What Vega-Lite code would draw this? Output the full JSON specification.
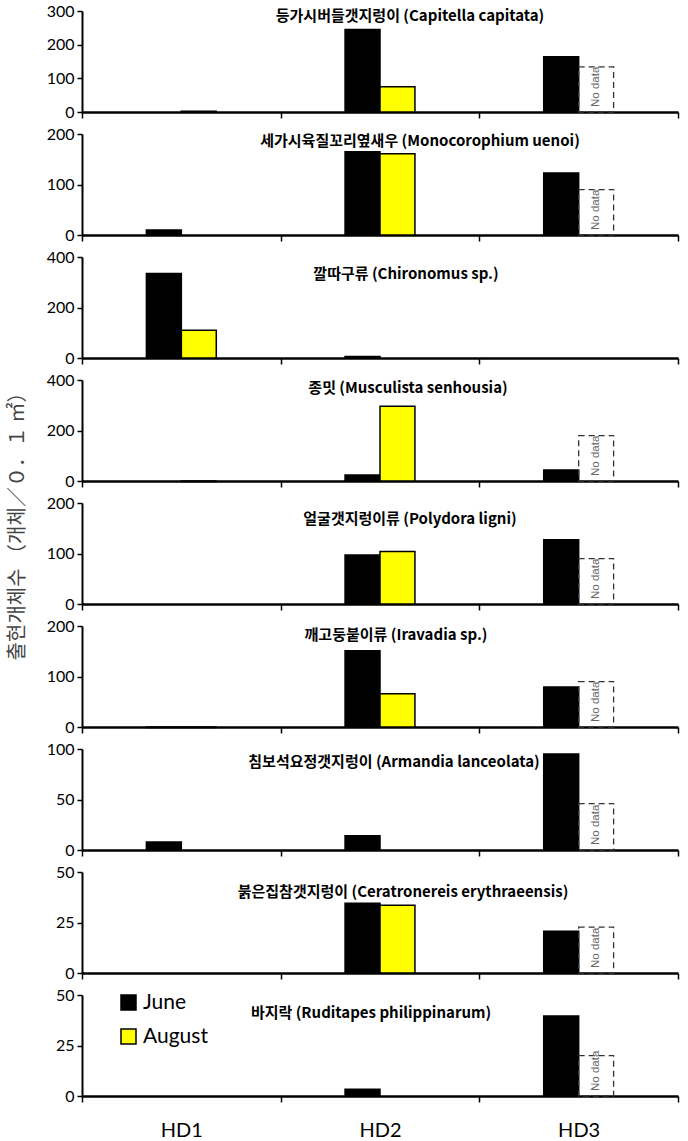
{
  "$schema": "https://vega.github.io/schema/vega-lite/v6.json",
  "padding": {"left": 8, "top": 3, "right": 4, "bottom": 5},
  "datasets": {
    "bars": [
      {"p": 1, "site": "HD1", "month": "August", "v": 2},
      {"p": 1, "site": "HD2", "month": "June", "v": 245},
      {"p": 1, "site": "HD2", "month": "August", "v": 75},
      {"p": 1, "site": "HD3", "month": "June", "v": 164},
      {"p": 2, "site": "HD1", "month": "June", "v": 10},
      {"p": 2, "site": "HD2", "month": "June", "v": 165},
      {"p": 2, "site": "HD2", "month": "August", "v": 161},
      {"p": 2, "site": "HD3", "month": "June", "v": 123},
      {"p": 3, "site": "HD1", "month": "June", "v": 335},
      {"p": 3, "site": "HD1", "month": "August", "v": 110},
      {"p": 3, "site": "HD2", "month": "June", "v": 6},
      {"p": 4, "site": "HD1", "month": "August", "v": -2},
      {"p": 4, "site": "HD2", "month": "June", "v": 24},
      {"p": 4, "site": "HD2", "month": "August", "v": 296},
      {"p": 4, "site": "HD3", "month": "June", "v": 44},
      {"p": 5, "site": "HD2", "month": "June", "v": 97},
      {"p": 5, "site": "HD2", "month": "August", "v": 104},
      {"p": 5, "site": "HD3", "month": "June", "v": 127},
      {"p": 6, "site": "HD1", "month": "June", "v": -1},
      {"p": 6, "site": "HD1", "month": "August", "v": -1},
      {"p": 6, "site": "HD2", "month": "June", "v": 151},
      {"p": 6, "site": "HD2", "month": "August", "v": 66},
      {"p": 6, "site": "HD3", "month": "June", "v": 79},
      {"p": 7, "site": "HD1", "month": "June", "v": 8},
      {"p": 7, "site": "HD2", "month": "June", "v": 14},
      {"p": 7, "site": "HD3", "month": "June", "v": 95},
      {"p": 8, "site": "HD2", "month": "June", "v": 34.5},
      {"p": 8, "site": "HD2", "month": "August", "v": 33.5},
      {"p": 8, "site": "HD3", "month": "June", "v": 20.7},
      {"p": 9, "site": "HD2", "month": "June", "v": 3.3},
      {"p": 9, "site": "HD3", "month": "June", "v": 39.6}
    ],
    "nodata": [
      {"p": 1, "site": "HD3", "month": "August", "v": 134},
      {"p": 2, "site": "HD3", "month": "August", "v": 90},
      {"p": 4, "site": "HD3", "month": "August", "v": 180},
      {"p": 5, "site": "HD3", "month": "August", "v": 90},
      {"p": 6, "site": "HD3", "month": "August", "v": 90},
      {"p": 7, "site": "HD3", "month": "August", "v": 46},
      {"p": 8, "site": "HD3", "month": "August", "v": 22.7},
      {"p": 9, "site": "HD3", "month": "August", "v": 20}
    ]
  },
  "title": {"text": "출현개체수 （개체／０．１ ㎡）", "orient": "left", "anchor": "middle", "fontSize": 20, "fontWeight": "normal", "font": "Noto Sans CJK KR", "color": "#444", "offset": 18, "dx": 50},
  "spacing": 22,
  "bounds": "flush",
  "resolve": {"scale": {"y": "independent", "x": "independent"}, "legend": {"color": "independent"}},
  "vconcat": [
    {
      "width": 596, "height": 101,
      "title": {"text": "등가시버들갯지렁이 (Capitella capitata)", "dx": 30, "offset": -21},
      "layer": [
        {"data": {"name": "bars"}, "transform": [{"filter": "datum.p == 1"}],
         "mark": {"type": "bar", "stroke": "black", "strokeWidth": 1.5},
         "encoding": {
           "x": {"field": "site", "type": "nominal", "scale": {"domain": ["HD1", "HD2", "HD3"], "paddingInner": 0, "paddingOuter": 0}, "axis": {"labels": false, "tickBand": "extent", "tickSize": 6, "title": null, "domainWidth": 2.5}},
           "xOffset": {"field": "month", "scale": {"domain": ["p1", "June", "August", "p2"], "paddingInner": 0, "paddingOuter": 0.843}},
           "y": {"field": "v", "type": "quantitative", "scale": {"domain": [0, 300], "nice": false}, "axis": {"values": [0, 100, 200, 300], "tickCount": 4, "title": null}},
           "color": {"field": "month", "scale": {"domain": ["June", "August"], "range": ["black", "#FFFF00"]}, "legend": null}
         }},
        {"data": {"name": "nodata"}, "transform": [{"filter": "datum.p == 1"}],
         "mark": {"type": "bar", "filled": false, "stroke": "#333", "strokeDash": [6, 4], "strokeWidth": 1.3},
         "encoding": {"x": {"field": "site", "type": "nominal", "axis": {"labels": false, "tickBand": "extent", "tickSize": 6, "title": null, "domainWidth": 2.5}}, "xOffset": {"field": "month"}, "y": {"field": "v", "type": "quantitative", "axis": {"values": [0, 100, 200, 300], "tickCount": 4, "title": null}}}},
        {"data": {"name": "nodata"}, "transform": [{"filter": "datum.p == 1"}],
         "mark": {"type": "text", "text": "No data", "angle": 270, "align": "left", "baseline": "middle", "dx": 5, "font": "Liberation Sans", "fontSize": 11.5, "color": "#666"},
         "encoding": {"x": {"field": "site", "type": "nominal", "axis": {"labels": false, "tickBand": "extent", "tickSize": 6, "title": null, "domainWidth": 2.5}}, "xOffset": {"field": "month"}, "y": {"datum": 0, "type": "quantitative", "axis": {"values": [0, 100, 200, 300], "tickCount": 4, "title": null}}}}
      ]
    },
    {
      "width": 596, "height": 101,
      "title": {"text": "세가시육질꼬리옆새우 (Monocorophium uenoi)", "dx": 40, "offset": -23},
      "layer": [
        {"data": {"name": "bars"}, "transform": [{"filter": "datum.p == 2"}],
         "mark": {"type": "bar", "stroke": "black", "strokeWidth": 1.5},
         "encoding": {
           "x": {"field": "site", "type": "nominal", "scale": {"domain": ["HD1", "HD2", "HD3"], "paddingInner": 0, "paddingOuter": 0}, "axis": {"labels": false, "tickBand": "extent", "tickSize": 6, "title": null, "domainWidth": 2.5}},
           "xOffset": {"field": "month", "scale": {"domain": ["p1", "June", "August", "p2"], "paddingInner": 0, "paddingOuter": 0.843}},
           "y": {"field": "v", "type": "quantitative", "scale": {"domain": [0, 200], "nice": false}, "axis": {"values": [0, 100, 200], "title": null}},
           "color": {"field": "month", "scale": {"domain": ["June", "August"], "range": ["black", "#FFFF00"]}, "legend": null}
         }},
        {"data": {"name": "nodata"}, "transform": [{"filter": "datum.p == 2"}],
         "mark": {"type": "bar", "filled": false, "stroke": "#333", "strokeDash": [6, 4], "strokeWidth": 1.3},
         "encoding": {"x": {"field": "site", "type": "nominal"}, "xOffset": {"field": "month"}, "y": {"field": "v", "type": "quantitative"}}},
        {"data": {"name": "nodata"}, "transform": [{"filter": "datum.p == 2"}],
         "mark": {"type": "text", "text": "No data", "angle": 270, "align": "left", "baseline": "middle", "dx": 5, "font": "Liberation Sans", "fontSize": 11.5, "color": "#666"},
         "encoding": {"x": {"field": "site", "type": "nominal"}, "xOffset": {"field": "month"}, "y": {"datum": 0, "type": "quantitative"}}}
      ]
    },
    {
      "width": 596, "height": 101,
      "title": {"text": "깔따구류 (Chironomus sp.)", "dx": 26, "offset": -33},
      "layer": [
        {"data": {"name": "bars"}, "transform": [{"filter": "datum.p == 3"}],
         "mark": {"type": "bar", "stroke": "black", "strokeWidth": 1.5},
         "encoding": {
           "x": {"field": "site", "type": "nominal", "scale": {"domain": ["HD1", "HD2", "HD3"], "paddingInner": 0, "paddingOuter": 0}, "axis": {"labels": false, "tickBand": "extent", "tickSize": 6, "title": null, "domainWidth": 2.5}},
           "xOffset": {"field": "month", "scale": {"domain": ["p1", "June", "August", "p2"], "paddingInner": 0, "paddingOuter": 0.843}},
           "y": {"field": "v", "type": "quantitative", "scale": {"domain": [0, 400], "nice": false}, "axis": {"values": [0, 200, 400], "title": null}},
           "color": {"field": "month", "scale": {"domain": ["June", "August"], "range": ["black", "#FFFF00"]}, "legend": null}
         }}
      ]
    },
    {
      "width": 596, "height": 101,
      "title": {"text": "종밋 (Musculista senhousia)", "dx": 28, "offset": -24},
      "layer": [
        {"data": {"name": "bars"}, "transform": [{"filter": "datum.p == 4"}],
         "mark": {"type": "bar", "stroke": "black", "strokeWidth": 1.5},
         "encoding": {
           "x": {"field": "site", "type": "nominal", "scale": {"domain": ["HD1", "HD2", "HD3"], "paddingInner": 0, "paddingOuter": 0}, "axis": {"labels": false, "tickBand": "extent", "tickSize": 6, "title": null, "domainWidth": 2.5}},
           "xOffset": {"field": "month", "scale": {"domain": ["p1", "June", "August", "p2"], "paddingInner": 0, "paddingOuter": 0.843}},
           "y": {"field": "v", "type": "quantitative", "scale": {"domain": [0, 400], "nice": false}, "axis": {"values": [0, 200, 400], "title": null}},
           "color": {"field": "month", "scale": {"domain": ["June", "August"], "range": ["black", "#FFFF00"]}, "legend": null}
         }},
        {"data": {"name": "nodata"}, "transform": [{"filter": "datum.p == 4"}],
         "mark": {"type": "bar", "filled": false, "stroke": "#333", "strokeDash": [6, 4], "strokeWidth": 1.3},
         "encoding": {"x": {"field": "site", "type": "nominal"}, "xOffset": {"field": "month"}, "y": {"field": "v", "type": "quantitative"}}},
        {"data": {"name": "nodata"}, "transform": [{"filter": "datum.p == 4"}],
         "mark": {"type": "text", "text": "No data", "angle": 270, "align": "left", "baseline": "middle", "dx": 5, "font": "Liberation Sans", "fontSize": 11.5, "color": "#666"},
         "encoding": {"x": {"field": "site", "type": "nominal"}, "xOffset": {"field": "month"}, "y": {"datum": 0, "type": "quantitative"}}}
      ]
    },
    {
      "width": 596, "height": 101,
      "title": {"text": "얼굴갯지렁이류 (Polydora ligni)", "dx": 30, "offset": -32},
      "layer": [
        {"data": {"name": "bars"}, "transform": [{"filter": "datum.p == 5"}],
         "mark": {"type": "bar", "stroke": "black", "strokeWidth": 1.5},
         "encoding": {
           "x": {"field": "site", "type": "nominal", "scale": {"domain": ["HD1", "HD2", "HD3"], "paddingInner": 0, "paddingOuter": 0}, "axis": {"labels": false, "tickBand": "extent", "tickSize": 6, "title": null, "domainWidth": 2.5}},
           "xOffset": {"field": "month", "scale": {"domain": ["p1", "June", "August", "p2"], "paddingInner": 0, "paddingOuter": 0.843}},
           "y": {"field": "v", "type": "quantitative", "scale": {"domain": [0, 200], "nice": false}, "axis": {"values": [0, 100, 200], "title": null}},
           "color": {"field": "month", "scale": {"domain": ["June", "August"], "range": ["black", "#FFFF00"]}, "legend": null}
         }},
        {"data": {"name": "nodata"}, "transform": [{"filter": "datum.p == 5"}],
         "mark": {"type": "bar", "filled": false, "stroke": "#333", "strokeDash": [6, 4], "strokeWidth": 1.3},
         "encoding": {"x": {"field": "site", "type": "nominal"}, "xOffset": {"field": "month"}, "y": {"field": "v", "type": "quantitative"}}},
        {"data": {"name": "nodata"}, "transform": [{"filter": "datum.p == 5"}],
         "mark": {"type": "text", "text": "No data", "angle": 270, "align": "left", "baseline": "middle", "dx": 5, "font": "Liberation Sans", "fontSize": 11.5, "color": "#666"},
         "encoding": {"x": {"field": "site", "type": "nominal"}, "xOffset": {"field": "month"}, "y": {"datum": 0, "type": "quantitative"}}}
      ]
    },
    {
      "width": 596, "height": 101,
      "title": {"text": "깨고둥붙이류 (Iravadia sp.)", "dx": 16, "offset": -25},
      "layer": [
        {"data": {"name": "bars"}, "transform": [{"filter": "datum.p == 6"}],
         "mark": {"type": "bar", "stroke": "black", "strokeWidth": 1.5},
         "encoding": {
           "x": {"field": "site", "type": "nominal", "scale": {"domain": ["HD1", "HD2", "HD3"], "paddingInner": 0, "paddingOuter": 0}, "axis": {"labels": false, "tickBand": "extent", "tickSize": 6, "title": null, "domainWidth": 2.5}},
           "xOffset": {"field": "month", "scale": {"domain": ["p1", "June", "August", "p2"], "paddingInner": 0, "paddingOuter": 0.843}},
           "y": {"field": "v", "type": "quantitative", "scale": {"domain": [0, 200], "nice": false}, "axis": {"values": [0, 100, 200], "title": null}},
           "color": {"field": "month", "scale": {"domain": ["June", "August"], "range": ["black", "#FFFF00"]}, "legend": null}
         }},
        {"data": {"name": "nodata"}, "transform": [{"filter": "datum.p == 6"}],
         "mark": {"type": "bar", "filled": false, "stroke": "#333", "strokeDash": [6, 4], "strokeWidth": 1.3},
         "encoding": {"x": {"field": "site", "type": "nominal"}, "xOffset": {"field": "month"}, "y": {"field": "v", "type": "quantitative"}}},
        {"data": {"name": "nodata"}, "transform": [{"filter": "datum.p == 6"}],
         "mark": {"type": "text", "text": "No data", "angle": 270, "align": "left", "baseline": "middle", "dx": 5, "font": "Liberation Sans", "fontSize": 11.5, "color": "#666"},
         "encoding": {"x": {"field": "site", "type": "nominal"}, "xOffset": {"field": "month"}, "y": {"datum": 0, "type": "quantitative"}}}
      ]
    },
    {
      "width": 596, "height": 101,
      "title": {"text": "침보석요정갯지렁이 (Armandia lanceolata)", "dx": 14, "offset": -29},
      "layer": [
        {"data": {"name": "bars"}, "transform": [{"filter": "datum.p == 7"}],
         "mark": {"type": "bar", "stroke": "black", "strokeWidth": 1.5},
         "encoding": {
           "x": {"field": "site", "type": "nominal", "scale": {"domain": ["HD1", "HD2", "HD3"], "paddingInner": 0, "paddingOuter": 0}, "axis": {"labels": false, "tickBand": "extent", "tickSize": 6, "title": null, "domainWidth": 2.5}},
           "xOffset": {"field": "month", "scale": {"domain": ["p1", "June", "August", "p2"], "paddingInner": 0, "paddingOuter": 0.843}},
           "y": {"field": "v", "type": "quantitative", "scale": {"domain": [0, 100], "nice": false}, "axis": {"values": [0, 50, 100], "title": null}},
           "color": {"field": "month", "scale": {"domain": ["June", "August"], "range": ["black", "#FFFF00"]}, "legend": null}
         }},
        {"data": {"name": "nodata"}, "transform": [{"filter": "datum.p == 7"}],
         "mark": {"type": "bar", "filled": false, "stroke": "#333", "strokeDash": [6, 4], "strokeWidth": 1.3},
         "encoding": {"x": {"field": "site", "type": "nominal"}, "xOffset": {"field": "month"}, "y": {"field": "v", "type": "quantitative"}}},
        {"data": {"name": "nodata"}, "transform": [{"filter": "datum.p == 7"}],
         "mark": {"type": "text", "text": "No data", "angle": 270, "align": "left", "baseline": "middle", "dx": 5, "font": "Liberation Sans", "fontSize": 11.5, "color": "#666"},
         "encoding": {"x": {"field": "site", "type": "nominal"}, "xOffset": {"field": "month"}, "y": {"datum": 0, "type": "quantitative"}}}
      ]
    },
    {
      "width": 596, "height": 101,
      "title": {"text": "붉은집참갯지렁이 (Ceratronereis erythraeensis)", "dx": 23, "offset": -36},
      "layer": [
        {"data": {"name": "bars"}, "transform": [{"filter": "datum.p == 8"}],
         "mark": {"type": "bar", "stroke": "black", "strokeWidth": 1.5},
         "encoding": {
           "x": {"field": "site", "type": "nominal", "scale": {"domain": ["HD1", "HD2", "HD3"], "paddingInner": 0, "paddingOuter": 0}, "axis": {"labels": false, "tickBand": "extent", "tickSize": 6, "title": null, "domainWidth": 2.5}},
           "xOffset": {"field": "month", "scale": {"domain": ["p1", "June", "August", "p2"], "paddingInner": 0, "paddingOuter": 0.843}},
           "y": {"field": "v", "type": "quantitative", "scale": {"domain": [0, 50], "nice": false}, "axis": {"values": [0, 25, 50], "title": null}},
           "color": {"field": "month", "scale": {"domain": ["June", "August"], "range": ["black", "#FFFF00"]}, "legend": null}
         }},
        {"data": {"name": "nodata"}, "transform": [{"filter": "datum.p == 8"}],
         "mark": {"type": "bar", "filled": false, "stroke": "#333", "strokeDash": [6, 4], "strokeWidth": 1.3},
         "encoding": {"x": {"field": "site", "type": "nominal"}, "xOffset": {"field": "month"}, "y": {"field": "v", "type": "quantitative"}}},
        {"data": {"name": "nodata"}, "transform": [{"filter": "datum.p == 8"}],
         "mark": {"type": "text", "text": "No data", "angle": 270, "align": "left", "baseline": "middle", "dx": 5, "font": "Liberation Sans", "fontSize": 11.5, "color": "#666"},
         "encoding": {"x": {"field": "site", "type": "nominal"}, "xOffset": {"field": "month"}, "y": {"datum": 0, "type": "quantitative"}}}
      ]
    },
    {
      "width": 596, "height": 101,
      "title": {"text": "바지락 (Ruditapes philippinarum)", "dx": -9, "offset": -34},
      "layer": [
        {"data": {"name": "bars"}, "transform": [{"filter": "datum.p == 9"}],
         "mark": {"type": "bar", "stroke": "black", "strokeWidth": 1.5},
         "encoding": {
           "x": {"field": "site", "type": "nominal", "scale": {"domain": ["HD1", "HD2", "HD3"], "paddingInner": 0, "paddingOuter": 0}, "axis": {"labels": true, "tickBand": "extent", "tickSize": 6, "title": null, "domainWidth": 2.5, "labelFontSize": 20, "labelPadding": 18, "labelAngle": 0}},
           "xOffset": {"field": "month", "scale": {"domain": ["p1", "June", "August", "p2"], "paddingInner": 0, "paddingOuter": 0.843}},
           "y": {"field": "v", "type": "quantitative", "scale": {"domain": [0, 50], "nice": false}, "axis": {"values": [0, 25, 50], "title": null}},
           "color": {"field": "month", "scale": {"domain": ["June", "August"], "range": ["black", "#FFFF00"]},
             "legend": {"title": null, "orient": "none", "legendX": 36, "legendY": -3, "symbolType": "square", "symbolSize": 225, "symbolStrokeColor": "black", "symbolStrokeWidth": 1.5, "labelFontSize": 21, "labelFont": "Lato", "labelColor": "black", "rowPadding": 12, "labelOffset": 4, "symbolOpacity": 1}}
         }},
        {"data": {"name": "nodata"}, "transform": [{"filter": "datum.p == 9"}],
         "mark": {"type": "bar", "filled": false, "stroke": "#333", "strokeDash": [6, 4], "strokeWidth": 1.3},
         "encoding": {"x": {"field": "site", "type": "nominal"}, "xOffset": {"field": "month"}, "y": {"field": "v", "type": "quantitative"}}},
        {"data": {"name": "nodata"}, "transform": [{"filter": "datum.p == 9"}],
         "mark": {"type": "text", "text": "No data", "angle": 270, "align": "left", "baseline": "middle", "dx": 5, "font": "Liberation Sans", "fontSize": 11.5, "color": "#666"},
         "encoding": {"x": {"field": "site", "type": "nominal"}, "xOffset": {"field": "month"}, "y": {"datum": 0, "type": "quantitative"}}}
      ]
    }
  ],
  "config": {
    "view": {"stroke": null},
    "axis": {"labelFont": "Lato", "labelColor": "black", "labelFontSize": 16, "labelOverlap": false, "domainColor": "black", "tickColor": "black", "grid": false, "tickWidth": 1.5, "domainWidth": 2, "tickSize": 5, "labelPadding": 3},
    "title": {"font": "Noto Sans CJK KR", "fontSize": 15, "fontWeight": "bold", "color": "black", "anchor": "middle", "baseline": "middle"}
  }
}
